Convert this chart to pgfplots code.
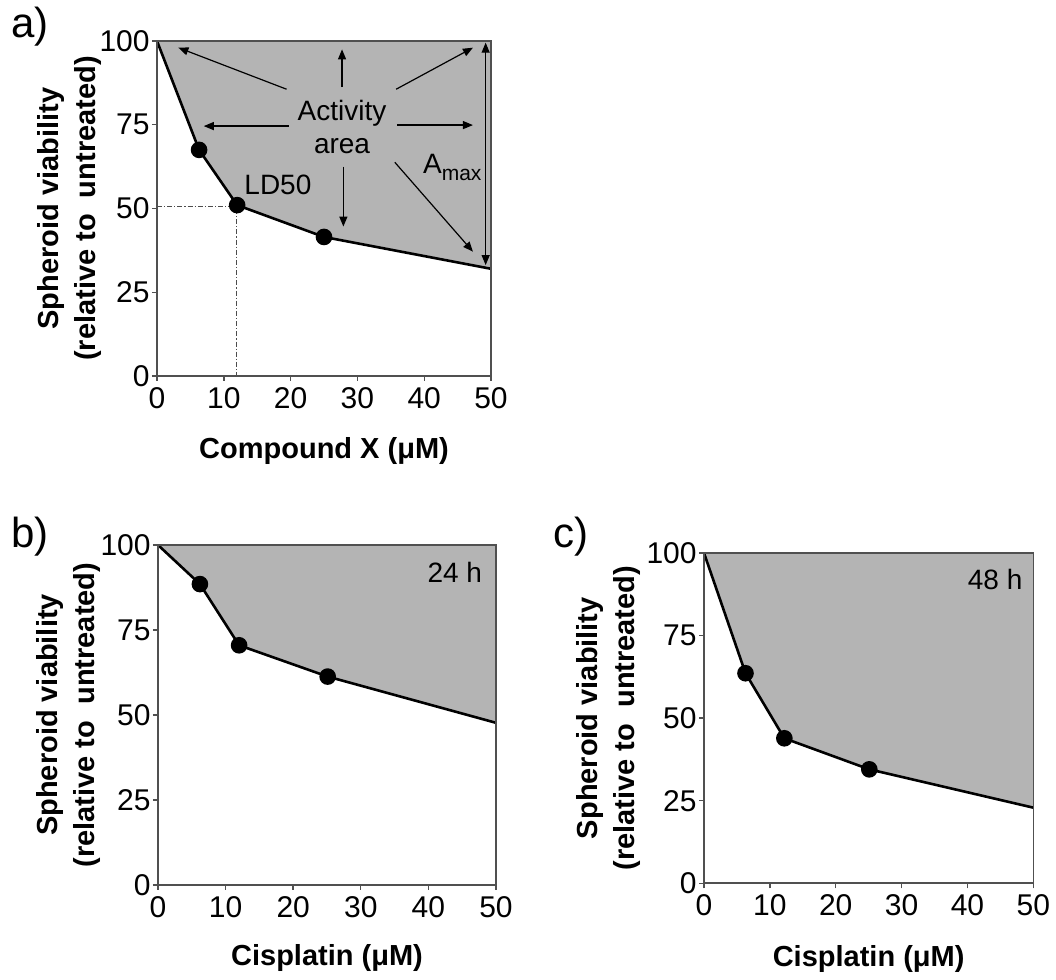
\documentclass[border=0pt]{standalone}
\usepackage{fontspec}
\setmainfont{Liberation Sans}
\usepackage{pgfplots}
\pgfplotsset{compat=1.18}
\usetikzlibrary{arrows.meta}

\definecolor{areagray}{RGB}{180,180,180}
\definecolor{boxgray}{RGB}{80,80,80}

\pgfplotsset{
  viab/.style={
    scale only axis, anchor=south west, axis on top,
    xmin=0, xmax=50, ymin=0, ymax=100,
    xtick={0,10,...,50}, ytick={0,25,...,100},
    tick pos=left,
    tick align=outside, major tick length=2.5pt,
    tick style={boxgray, line width=0.7pt},
    axis line style={boxgray, line width=0.8pt},
    ticklabel style={font=\fontsize{15}{17}\selectfont, inner sep=1pt,
      /pgf/number format/assume math mode=true},
    xticklabel style={yshift=-2pt},
    label style={font=\fontsize{14.5}{18.5}\selectfont\bfseries, align=center},
    ylabel={Spheroid viability\\(relative to~ untreated)},
  },
  curve/.style={black, line width=1.3pt, mark=*, mark size=3.5pt, mark indices={2,3,4}},
  area/.style={fill=areagray, draw=none, forget plot},
}
\tikzset{ann/.style={black, line width=0.6pt, -{Triangle[length=5pt,width=4pt]}},
  panel/.style={anchor=base west, inner sep=0, font=\fontsize{21}{21}\selectfont}}

\begin{document}
\begin{tikzpicture}
\path (0,0) rectangle (528pt,-489pt);

% panel a
\node[panel] at (5.5pt,-19pt) {a)};
\begin{axis}[viab, at={(78.5pt,-188pt)}, width=167pt, height=167.5pt,
  xlabel={Compound X (μM)},
  xlabel style={at={(axis description cs:0.5,-0.225)}, anchor=center},
  ylabel style={at={(axis description cs:-0.262,0.5)}, anchor=center}]
\addplot[area] coordinates {(0,100) (6.3,67.5) (12,51) (25,41.5) (50,32) (50,100)};
\addplot[gray!60!black, line width=0.5pt, dash pattern=on 2.5pt off 1pt on 0.6pt off 1pt]
  coordinates {(0,50.5) (11.9,50.5) (11.9,0)};
\addplot[curve] coordinates {(0,100) (6.3,67.5) (12,51) (25,41.5) (50,32)};
\draw[ann] (axis cs:19.4,85.6) -- (axis cs:3.2,98.0);
\draw[ann] (axis cs:27.7,86.2) -- (axis cs:27.7,97.5);
\draw[ann] (axis cs:35.8,85.6) -- (axis cs:47.3,98.0);
\draw[ann] (axis cs:19.7,74.6) -- (axis cs:7.0,74.6);
\draw[ann] (axis cs:36.0,74.9) -- (axis cs:47.3,74.9);
\draw[ann] (axis cs:27.9,62.5) -- (axis cs:27.9,44.6);
\draw[ann] (axis cs:35.6,63.8) -- (axis cs:47.3,37.1);
\draw[black, line width=0.6pt, {Triangle[length=5pt,width=4pt]}-{Triangle[length=5pt,width=4pt]}]
  (axis cs:49.2,99.5) -- (axis cs:49.2,33.1);
\node[align=center, font=\fontsize{14}{16.5}\selectfont] at (axis cs:27.7,74.4) {Activity\\area};
\node[font=\fontsize{14}{16}\selectfont] at (axis cs:18.1,57.0) {LD50};
\node[font=\fontsize{14}{16}\selectfont] at (axis cs:44.2,62.1)
  {A\raisebox{-3.5pt}{\fontsize{10.5}{11}\selectfont max}};
\end{axis}

% panel b
\node[panel] at (5.5pt,-274pt) {b)};
\begin{axis}[viab, at={(79pt,-442.5pt)}, width=169pt, height=170pt,
  xlabel={Cisplatin (μM)},
  xlabel style={at={(axis description cs:0.5,-0.216)}, anchor=center},
  ylabel style={at={(axis description cs:-0.265,0.5)}, anchor=center}]
\addplot[area] coordinates {(0,100) (6.2,88.5) (12,70.5) (25.1,61.3) (50,47.7) (50,100)};
\addplot[curve] coordinates {(0,100) (6.2,88.5) (12,70.5) (25.1,61.3) (50,47.7)};
\node[font=\fontsize{14}{16}\selectfont] at (axis cs:43.9,92.1) {24 h};
\end{axis}

% panel c
\node[panel] at (276.5pt,-274pt) {c)};
\begin{axis}[viab, at={(352pt,-441.65pt)}, width=164.65pt, height=165.15pt,
  xlabel={Cisplatin (μM)},
  xlabel style={at={(axis description cs:0.5,-0.23)}, anchor=center},
  ylabel style={at={(axis description cs:-0.29,0.5)}, anchor=center}]
\addplot[area] coordinates {(0,100) (6.3,63.6) (12.2,43.9) (25.1,34.5) (50,22.9) (50,100)};
\addplot[curve] coordinates {(0,100) (6.3,63.6) (12.2,43.9) (25.1,34.5) (50,22.9)};
\node[font=\fontsize{14}{16}\selectfont] at (axis cs:44.2,92.0) {48 h};
\end{axis}
\end{tikzpicture}
\end{document}
